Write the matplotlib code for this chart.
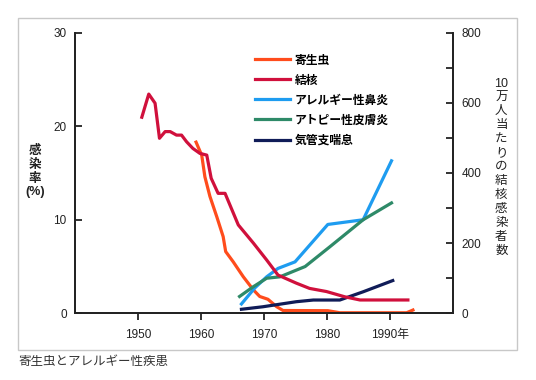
import matplotlib
matplotlib.use("Agg")
import matplotlib.pyplot as plt
from matplotlib.patches import Rectangle

plt.rcParams['font.family'] = ['Liberation Sans', 'Noto Sans CJK JP', 'DejaVu Sans']

# 寄生虫 (感染率 %)
parasite_year = [1959.2, 1960.1, 1960.6, 1961.4, 1962.5, 1963.5, 1963.9, 1965.1, 1966.7,
                 1968.3, 1969.3, 1970.6, 1972.0, 1973.0, 1980.1, 1982.0, 1992.6, 1993.6]
parasite_val = [18.3, 16.9, 14.6, 12.5, 10.3, 8.2, 6.6, 5.5, 3.9,
                2.5, 1.8, 1.5, 0.7, 0.3, 0.28, 0.06, 0.06, 0.35]

# 結核 (10万人当たり)
tb_year = [1950.6, 1951.7, 1952.7, 1953.4, 1954.3, 1955.1, 1956.1, 1956.9, 1957.7, 1958.7,
           1959.8, 1960.9, 1961.6, 1962.7, 1963.8, 1965.9, 1968.3, 1970.4, 1972.2, 1975.1,
           1977.2, 1979.9, 1982.8, 1985.2, 1992.8]
tb_val = [559, 625, 599, 499, 518, 518, 508, 508, 489, 470,
          456, 451, 385, 342, 342, 252, 200, 152, 109, 86,
          71, 62, 47, 38, 38]

# アレルギー性鼻炎
rhinitis_year = [1966.4, 1968.5, 1970.4, 1972.2, 1974.9, 1977.5, 1980.1, 1985.7, 1990.2]
rhinitis_val = [1.0, 2.7, 3.9, 4.8, 5.5, 7.5, 9.5, 10.0, 16.3]

# アトピー性皮膚炎
atopic_year = [1966.1, 1968.3, 1970.4, 1972.5, 1976.5, 1980.4, 1985.7, 1990.2]
atopic_val = [1.8, 2.85, 3.75, 3.9, 5.0, 7.1, 10.0, 11.8]

# 気管支喘息
asthma_year = [1966.4, 1969.8, 1975.1, 1977.8, 1982.0, 1985.7, 1990.4]
asthma_val = [0.43, 0.7, 1.24, 1.42, 1.42, 2.3, 3.5]

xticks = [1950, 1960, 1970, 1980, 1990]
xticklabels = ['1950', '1960', '1970', '1980', '1990年']

fig = plt.figure(figsize=(5.36, 3.80), dpi=100)
ax = fig.add_axes([0.1399, 0.1755, 0.7058, 0.7385])
ax2 = ax.twinx()

lw = 2.3
ax.plot(parasite_year, parasite_val, color='#ff4c1c', lw=lw, label='寄生虫')
ax2.plot(tb_year, tb_val, color='#d0103c', lw=lw, label='結核')
ax.plot(rhinitis_year, rhinitis_val, color='#1e9cf0', lw=lw, label='アレルギー性鼻炎')
ax.plot(atopic_year, atopic_val, color='#2e8a68', lw=lw, label='アトピー性皮膚炎')
ax.plot(asthma_year, asthma_val, color='#101c58', lw=lw, label='気管支喘息')

ax.set_xlim(1940, 2000)
ax.set_ylim(0, 30)
ax2.set_ylim(0, 800)
ax.set_xticks(xticks)
ax.set_xticklabels(xticklabels)
ax.set_yticks([0, 10, 20, 30])
ax2.set_yticks(range(0, 801, 100))
ax2.set_yticklabels([str(v) if v % 200 == 0 else '' for v in range(0, 801, 100)])

for a in (ax, ax2):
    a.spines['top'].set_visible(False)
    for s in a.spines.values():
        s.set_linewidth(1.3)
        s.set_color('#222222')
ax.tick_params(axis='x', direction='out', length=5, width=1.3, pad=6, labelsize=8.5, colors='#222222')
ax.tick_params(axis='y', direction='in', length=5, width=1.3, pad=6, labelsize=8.5, colors='#222222')
ax2.tick_params(axis='y', direction='in', length=5, width=1.3, pad=6, labelsize=8.5, colors='#222222')

ax.text(-0.106, 0.505, '感\n染\n率\n(%)', transform=ax.transAxes, ha='center', va='center',
        fontsize=9, fontweight='bold', linespacing=1.2, color='#222222')
ax2.text(1.127, 0.52, '\n'.join(['10', '万', '人', '当', 'た', 'り', 'の', '結', '核', '感', '染', '者', '数']),
         transform=ax.transAxes, ha='center', va='center', fontsize=9, linespacing=1.22,
         color='#222222')

handles = ax.get_lines()[:1] + ax2.get_lines() + ax.get_lines()[1:]
leg = ax.legend(handles=handles, labels=[h.get_label() for h in handles], loc='upper left',
                bbox_to_anchor=(0.447, 0.96), frameon=False, handlelength=3.0,
                handletextpad=0.4, labelspacing=0.68, prop={'size': 8.5, 'weight': 'bold'})
leg.set_zorder(5)

fig.patches.append(Rectangle((18 / 536, 1 - 350 / 380), 499 / 536, 332 / 380,
                             transform=fig.transFigure, fill=False, edgecolor='#c8c8c8', lw=1))
fig.text(18 / 536, 1 - 362 / 380, '寄生虫とアレルギー性疾患', ha='left', va='center',
         fontsize=9, color='#333333', family=['Noto Sans CJK JP'])

fig.savefig('out.png', dpi=100)
